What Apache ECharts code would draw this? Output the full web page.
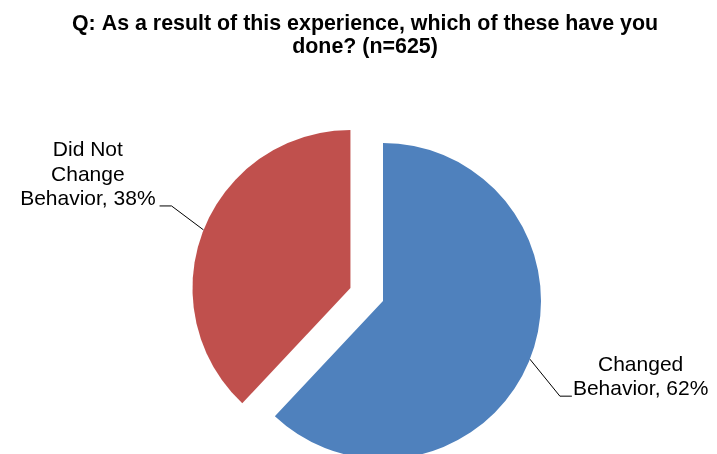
<!DOCTYPE html>
<html>
<head>
<meta charset="utf-8">
<script src="https://cdn.jsdelivr.net/npm/echarts@6/dist/echarts.min.js"></script>
<style>
  html, body { margin: 0; padding: 0; background: #fff; }
  #chart { width: 717px; height: 454px; }
</style>
</head>
<body>
<div id="chart"></div>
<script>
// Survey responses (percent of n=625)
const categories = ['Changed Behavior', 'Did Not Change Behavior'];
const labelNames = ['Changed\nBehavior', 'Did Not\nChange\nBehavior'];
const values = [62, 38];
const colors = ['#4F81BD', '#C0504D'];
const exploded = [false, true];
const titleText = 'Q: As a result of this experience, which of these have you\ndone? (n=625)';

const CENTER = [383, 301];
const RADIUS = 158;
const EXPLODE = 35;
const LABEL_LINE_HEIGHT = 24.5;

const chart = echarts.init(document.getElementById('chart'), null, { renderer: 'canvas' });

// Each slice gets its own pie layer so an exploded slice can be shifted
// outward along its mid-angle; the other slices in that layer stay invisible.
const total = values.reduce((a, b) => a + b, 0);
let acc = 0;
const series = categories.map((name, k) => {
  const mid = (acc + values[k] / 2) / total * 2 * Math.PI; // clockwise from 12 o'clock
  acc += values[k];
  const off = exploded[k] ? EXPLODE : 0;
  const center = [CENTER[0] + off * Math.sin(mid), CENTER[1] - off * Math.cos(mid)];
  return {
    type: 'pie',
    center: center,
    radius: RADIUS,
    startAngle: 90,
    clockwise: true,
    selectedMode: false,
    data: categories.map((n, i) => ({
      name: n,
      value: values[i],
      itemStyle: { color: i === k ? colors[i] : 'rgba(0,0,0,0)' },
      label: { show: i === k },
      labelLine: { show: i === k }
    })),
    label: {
      position: 'outside',
      fontFamily: '"Liberation Sans", Arial, sans-serif',
      fontSize: 21,
      lineHeight: LABEL_LINE_HEIGHT,
      color: '#000000',
      align: 'center',
      formatter: p => labelNames[p.dataIndex] + ', ' + p.value + '%'
    },
    labelLine: {
      length: 20,
      length2: 12,
      lineStyle: { color: '#000000', width: 1 }
    },
    // Leader lines bend down-right / up-left, with the last text line sitting on the tail
    labelLayout: function (p) {
      const pts = p.labelLinePoints;
      if (!pts) return {};
      const p0 = pts[0];
      const w = p.labelRect.width;
      const lines = labelNames[p.dataIndex].split('\n').length;
      const right = p0[0] > center[0];
      const p1 = right ? [p0[0] + 30, p0[1] + 37] : [p0[0] - 32, p0[1] - 24];
      const p2 = right ? [p1[0] + 12, p1[1]] : [p1[0] - 12, p1[1]];
      const cx = right ? p2[0] + 1 + w / 2 : p2[0] - 4 - w / 2;
      const cy = p2[1] - 6.5 - (lines - 1) * LABEL_LINE_HEIGHT / 2;
      return {
        x: cx,
        y: cy,
        align: 'center',
        verticalAlign: 'middle',
        labelLinePoints: [p0, p1, p2]
      };
    },
    silent: true,
    emphasis: { disabled: true }
  };
});

chart.setOption({
  animation: false,
  backgroundColor: '#ffffff',
  title: {
    text: titleText,
    left: 360,
    top: 8,
    textAlign: 'center',
    textStyle: {
      fontFamily: '"Liberation Sans", Arial, sans-serif',
      fontWeight: 'bold',
      fontSize: 21.4,
      lineHeight: 23,
      color: '#000000',
      align: 'center'
    }
  },
  series: series
});
</script>
</body>
</html>
